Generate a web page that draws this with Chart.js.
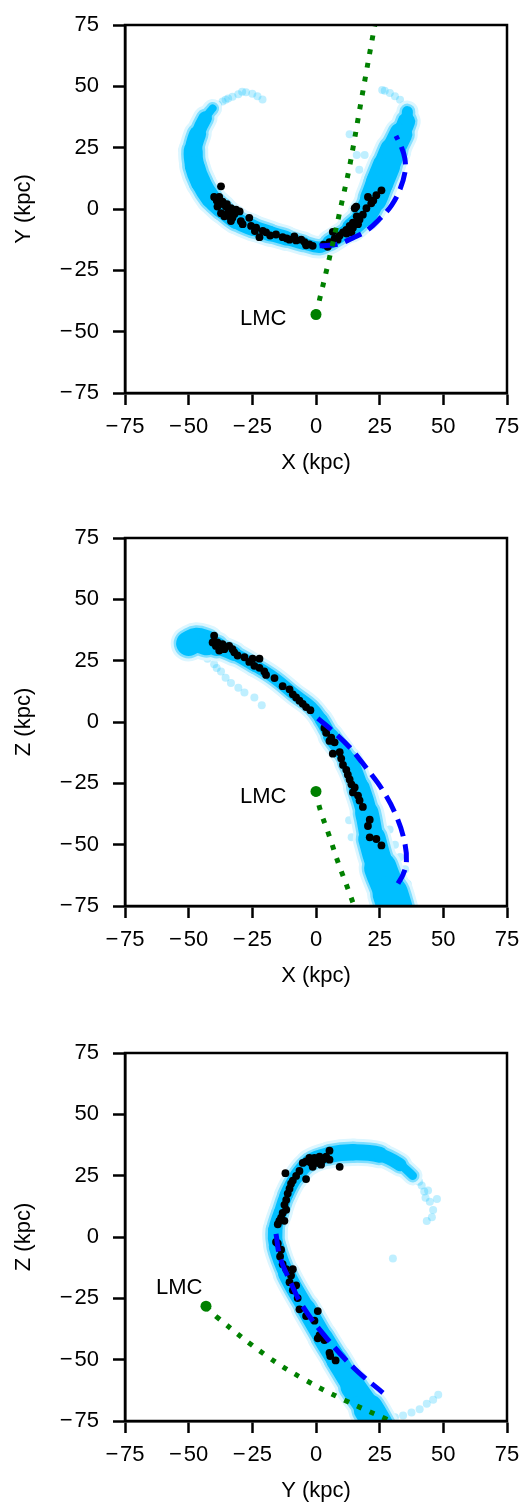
<!DOCTYPE html>
<html><head><meta charset="utf-8">
<script src="https://cdn.jsdelivr.net/npm/chart.js@4.4.1/dist/chart.umd.min.js"></script>
<style>
html,body{margin:0;padding:0;background:#fff;width:530px;height:1503px;overflow:hidden;}
.p{position:absolute;left:0;width:530px;height:490px;}
canvas{display:block;}
</style></head><body>
<div class="p" style="top:0px"><canvas id="c1" width="530" height="490"></canvas></div>
<div class="p" style="top:513px"><canvas id="c2" width="530" height="490"></canvas></div>
<div class="p" style="top:1028px"><canvas id="c3" width="530" height="490"></canvas></div>
<script>
// ---------------- DATA ----------------
const tickValues = [-75, -50, -25, 0, 25, 50, 75];
const axisTitles = [['X (kpc)', 'Y (kpc)'], ['X (kpc)', 'Z (kpc)'], ['Y (kpc)', 'Z (kpc)']];
const lmcText = 'LMC';

// Panel 1 : X-Y
const p1Stream = [[-40.6,41.0],[-43.5,37.1],[-46.5,30.5],[-48.2,23.9],[-47.6,17.4],[-45.2,10.8],[-41.3,4.3],[-37,0],[-31.4,-4.6],[-24.9,-7.6],[-18,-10],[-11.7,-11.9],[-5,-14],[1.4,-15.6],[5.3,-13.5],[13.9,-7.6],[19.1,-2.3],[22.6,4.3],[25.0,10.8],[27.6,17.4],[30.2,23.9],[33.3,30.5],[35.5,35.7],[35.9,39.7]];
const p1Faint = [[-38.5,42.5],[-36.7,43.8],[-34.5,45],[-32.8,45.8],[-30.5,46.8],[-27.5,47.6],[-25,47],[-23,46],[-21,44.6],[-39.5,41.5],[-42,40],[-35.5,44.5],[-29,47.8],[-52,20],[-52.5,24],[-51,28],[-51.5,16],[-50,12],[-52,18.5],[34.4,42.3],[33,44.5],[31,46],[29,47.3],[27,48.2],[36.5,41.5],[37.5,37.5],[36.8,34],[26,48.5],[13.2,30.5],[19.1,22],[17,16],[16,22]];
const p1Stars = [[-37.3,9.25],[-40.0,4.9],[-38.0,4.9],[-36.7,3.0],[-38.7,1.0],[-35.4,1.0],[-33.4,0.3],[-31.4,-0.3],[-37.3,-1.7],[-34.7,-1.7],[-36.0,-3.0],[-32.8,-3.6],[-33.4,-4.9],[-26.2,-3.6],[-28.8,-6.2],[-25.5,-6.9],[-23.5,-7.6],[-22.2,-11.5],[-19.6,-9.5],[-20.9,-8.9],[-15.7,-10.4],[-13.1,-11.5],[-10.4,-12.5],[-8.5,-11.2],[-7.8,-12.8],[-5.8,-12.5],[-4.5,-13.5],[-3.9,-14.8],[-2.6,-14.4],[-1.3,-15],[-39,3.5],[-35,2],[-32,-2],[-30,-1],[-34,-3],[-37.5,2],[-29.5,-5],[-24,-9],[-18,-10.8],[-11.5,-12],
  [25.7,7.6],[23.7,5.6],[20.4,4.9],[21.7,2.3],[19.8,0.3],[15.8,1.0],[15.2,0.3],[18.4,-2.3],[17.1,-4.3],[14.5,-5.6],[13.2,-6.9],[11.9,-8.5],[10.6,-9.5],[9.3,-10.8],[6.6,-9.3],[7.3,-12.1],[5.3,-13.5],[4.6,-15.4],[14.5,-7.6],[16.5,-6.2],[13.9,-9.5],[22.5,3.5],[16,-3],[12,-10],[8.5,-12.5],[3,-14.5]];
const p1Dashed = [[1.4,-15],[8.6,-14.3],[14.5,-11.8],[19.8,-8.9],[25,-4],[29.6,1.4],[32.9,7.8],[34.9,14.8],[34.9,20.5],[33.4,25.6],[31.4,29.8]];
const p1Orbit = [[0,-43],[5.7,-18],[10.6,4.9],[13.2,17.4],[18,45.6],[23,74.5],[24.4,82]];
const p1Lmc = [0,-43];
const p1LmcLabel = [-20.7,-44.7];

// Panel 2 : X-Z
const p2Stream = [[-50,32],[-47,33.3],[-43,32.3],[-39,30.8],[-32.1,27.8],[-24.2,23.1],[-16.3,17.9],[-8.5,11.3],[-1.9,6.1],[2,1],[5.8,-5.7],[12.8,-16.2],[16.9,-26.7],[20,-37.2],[22,-47.7],[25.3,-59.5],[29.2,-70],[31.5,-78]];
const p2Faint = [[-42.6,25.8],[-40,23.5],[-37.3,20.6],[-35.5,18],[-33.4,15.9],[-30.5,14],[-28.1,12],[-24.2,10],[-21.3,6.8],[-44,27],[-39,22],[-54,30],[-53,35],[-49,38.5],[-44,38],[35,-60],[36,-66],[33,-55],[24,-69],[38,-74],[14,-47],[13,-40],[31,-50],[28.9,-43.8]];
const p2Stars = [[-40.0,35.2],[-40.6,32.4],[-38.7,32.4],[-39.3,31.0],[-36.7,31.7],[-38.0,29.1],[-36.0,29.7],[-34.1,31.0],[-32.8,29.7],[-32.1,28.4],[-30.8,27.1],[-28.1,26.4],[-26.2,24.5],[-24.9,25.8],[-22.2,25.8],[-24.2,22.9],[-22.2,22.1],[-20.3,20.6],[-19.6,19.2],[-16.3,17.9],[-13.1,14.6],[-10.4,13.3],[-9.1,11.3],[-7.8,10.0],[-6.5,8.7],[-5.2,7.4],[-3.9,6.1],[-2.2,4.8],
  [3.3,-2.4],[4.0,-4.4],[6.0,-6.4],[7.3,-8.3],[5.3,-7.7],[6.6,-12.9],[9.3,-12.3],[9.9,-14.9],[10.6,-17.5],[11.9,-19.5],[12.5,-21.5],[13.2,-23.4],[13.9,-25.4],[15.2,-26.7],[14.5,-28.7],[16.5,-30.0],[17.1,-32.0],[18.4,-34.6],[21.1,-39.8],[20.4,-42.4],[21.1,-47.0],[23.7,-47.7],[25.7,-50.3]];
const p2Dashed = [[0.7,1.5],[6.6,-3.7],[13.2,-10.3],[19.8,-18.8],[26.3,-28],[31.6,-38.5],[34.8,-49],[35.5,-56.9],[34.2,-62.1],[32.2,-65.8]];
const p2Orbit = [[0,-28.3],[1.6,-35.6],[5.3,-46.7],[8.9,-57.9],[12.9,-69],[15.3,-76]];
const p2Lmc = [0,-28.3];
const p2LmcLabel = [-20.7,-30.6];

// Panel 3 : Y-Z
const p3Stream = [[25,-78],[20.7,-70.2],[14.5,-61],[8,-50],[2.7,-41],[-4,-29],[-11.5,-15.1],[-15.5,-4],[-16,3],[-14,10],[-11.7,17],[-7.8,24.5],[-2.6,30.5],[5.3,33.5],[14.5,34.5],[25,33.5],[33,29.5],[38,25]];
const p3Faint = [[44.7,14.4],[46,11],[45.5,8],[43.5,6.5],[47.5,15.5],[41.5,21],[42.5,18.5],[44,19],[40.5,22.5],[43,16],[39.5,24.5],[37,27],[30,33],[28,36],[20,37.5],[30.2,-8.8],[27.6,-73.5],[31,-73.5],[34.2,-72.8],[37.5,-71.5],[40.7,-70.2],[43.5,-68],[46,-66.3],[48,-64.3],[29.5,-74.5],[14,37.5],[8,36.5],[-18.5,0],[-18,-5]];
const p3Stars = [[5.3,35.2],[4.0,32.8],[5.3,31.5],[1.4,32.8],[-0.6,32.2],[-2.6,32.2],[-3.9,30.8],[-5.2,30.2],[-1.9,30.2],[0.1,30.2],[-1.3,28.6],[2.0,29.5],[2.7,31.5],[9.3,28.6],[-6.5,26.9],[-3.9,23.6],[-7.8,24.9],[-9.1,23.0],[-9.8,21.7],[-10.4,19.7],[-11.1,17.7],[-11.7,15.1],[-12.4,13.1],[-11.7,11.1],[-13.1,9.8],[-13.7,7.9],[-14.4,6.6],[-12.4,6.6],[-15.0,5.2],[-12.0,26.0],[-15.7,-2.0],
  [-15.0,-2.6],[-13.7,-5.2],[-14.1,-7.9],[-13.1,-11.1],[-11.7,-13.1],[-9.1,-13.1],[-9.8,-15.7],[-10.4,-18.4],[-7.8,-19.7],[-9.1,-21.7],[-7.2,-24.9],[-6.5,-29.5],[-3.9,-32.2],[-0.6,-34.1],[0.7,-30.2],[1.4,-40.0],[0.7,-41.3],[3.3,-42.0],[5.3,-47.2],[5.6,-48.5],[7.7,-50.3]];
const p3Dashed = [[-15.7,1.3],[-14.2,-8],[-10.4,-17.5],[-5.2,-28.2],[4,-41],[15.5,-54],[26.3,-63.5]];
const p3Orbit = [[-43.2,-28.2],[-38.7,-32.8],[-19.6,-48.3],[-4.5,-58.1],[11.2,-66.5],[27,-73.9],[34,-77]];
const p3Lmc = [-43.2,-28.2];
const p3LmcLabel = [-53.7,-20.6];

// ---------------- STYLE ----------------
const p1StreamW = [5,11,16,18,20,20,19,18,17,16,15,14,12,11,12,16,22,26,28,27,25,21,14,8];
const p2StreamW = [22,28,22,16,13,12,12,12,12,12,14,17,20,22,25,30,35,36];
const p3StreamW = [32,28,22,20,20,18,16,15,14,13,13,14,15,16,17,15,11,6];
const CYAN = '#00BFFF', HALO1 = '#80dfff', HALO2 = '#dcf6ff';
const FONT = '"Liberation Sans", Arial, Helvetica, sans-serif';
const FS = 22;

// ---------------- BUILD ----------------
const toXY = a => a.map(p => ({x: p[0], y: p[1]}));
const fmt = v => v < 0 ? '\u2212\u200A' + Math.abs(v) : String(v);

const framePlugin = {
  id: 'frame',
  afterDatasetsDraw(chart) {
    const {ctx, chartArea: a} = chart;
    ctx.save();
    ctx.strokeStyle = '#000'; ctx.lineWidth = 2.5;
    ctx.strokeRect(a.left, a.top, a.right - a.left, a.bottom - a.top);
    ctx.restore();
  }
};
const labelPlugin = {
  id: 'lmcLabel',
  afterDatasetsDraw(chart, args, opts) {
    const {ctx} = chart;
    const x = chart.scales.x.getPixelForValue(opts.pos[0]);
    const y = chart.scales.y.getPixelForValue(opts.pos[1]);
    ctx.save();
    ctx.font = FS + 'px ' + FONT; ctx.fillStyle = '#000';
    ctx.textAlign = 'center'; ctx.textBaseline = 'middle';
    ctx.fillText(opts.text, x, y);
    ctx.restore();
  }
};

function streamSet(data, w, add, color, order) {
  return {
    data: toXY(data), showLine: true, pointRadius: 0, tension: 0.4, clip: 0, order,
    borderColor: color, borderWidth: w[0] + add, borderCapStyle: 'round', borderJoinStyle: 'round',
    segment: {
      borderWidth: c => (w[c.p0DataIndex] + w[c.p1DataIndex]) / 2 + add,
      borderColor: color, borderCapStyle: 'round', borderJoinStyle: 'round'
    }
  };
}

function axis(title, isX) {
  return {
    type: 'linear', min: -75, max: 75,
    afterBuildTicks: s => { s.ticks = tickValues.map(v => ({value: v})); },
    ticks: {color: '#000', font: {family: FONT, size: FS, lineHeight: 1}, padding: isX ? 10.5 : 14,
            callback: fmt, maxRotation: 0, minRotation: 0, autoSkip: false},
    grid: {display: true, drawOnChartArea: false, drawTicks: true, tickLength: 12, tickWidth: 2.5, tickColor: '#000'},
    border: {display: true, color: '#000', width: 2.5},
    title: {display: true, text: title, color: '#000', font: {family: FONT, size: FS, lineHeight: 1.2},
            padding: isX ? {top: 0, bottom: 13.5} : {top: 11, bottom: 0}},
    afterFit: s => { if (isX) s.height = 97; else s.width = 125; }
  };
}

function makeChart(id, P, titles) {
  const datasets = [
    {data: toXY(P.orbit), showLine: true, borderColor: '#008000', borderWidth: 5, borderDash: [5, 9],
     borderCapStyle: 'butt', pointRadius: 0, tension: 0.4, clip: 0, order: 0},
    {data: toXY([P.lmc]), showLine: false, pointRadius: 5.5, pointBackgroundColor: '#008000',
     pointBorderWidth: 0, clip: 0, order: 0},
    {data: toXY(P.dashed), showLine: true, borderColor: '#0000FF', borderWidth: 5, borderDash: [18, 8],
     borderCapStyle: 'butt', pointRadius: 0, tension: 0.4, clip: 0, order: 1},
    {data: toXY(P.stars), showLine: false, pointRadius: 3.9, pointBackgroundColor: '#000',
     pointBorderWidth: 0, clip: 0, order: 2},
    streamSet(P.stream, P.w, 0, CYAN, 3),
    streamSet(P.stream, P.w, 5, HALO1, 4),
    streamSet(P.stream, P.w, 11, HALO2, 5),
    {data: toXY(P.faint), showLine: false, pointRadius: 4, pointBackgroundColor: 'rgba(0,191,255,0.25)',
     pointBorderWidth: 0, clip: 0, order: 6}
  ];
  return new Chart(document.getElementById(id), {
    type: 'line',
    data: {datasets},
    options: {
      responsive: false, animation: false, devicePixelRatio: 1, events: [],
      layout: {padding: {top: 12, right: 23, bottom: 0, left: 0}},
      plugins: {legend: {display: false}, tooltip: {enabled: false},
                lmcLabel: {pos: P.label, text: lmcText}},
      scales: {x: axis(titles[0], true), y: axis(titles[1], false)}
    },
    plugins: [framePlugin, labelPlugin]
  });
}

makeChart('c1', {stream: p1Stream, w: p1StreamW, faint: p1Faint, stars: p1Stars, dashed: p1Dashed, orbit: p1Orbit, lmc: p1Lmc, label: p1LmcLabel}, axisTitles[0]);
makeChart('c2', {stream: p2Stream, w: p2StreamW, faint: p2Faint, stars: p2Stars, dashed: p2Dashed, orbit: p2Orbit, lmc: p2Lmc, label: p2LmcLabel}, axisTitles[1]);
makeChart('c3', {stream: p3Stream, w: p3StreamW, faint: p3Faint, stars: p3Stars, dashed: p3Dashed, orbit: p3Orbit, lmc: p3Lmc, label: p3LmcLabel}, axisTitles[2]);
</script>
</body></html>
